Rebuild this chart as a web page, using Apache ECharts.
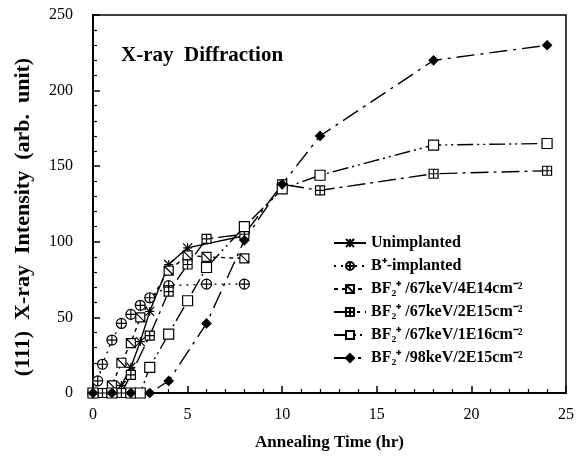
<!DOCTYPE html>
<html>
<head>
<meta charset="utf-8">
<script src="https://cdn.jsdelivr.net/npm/echarts@6/dist/echarts.min.js"></script>
<style>
html,body{margin:0;padding:0;background:#fff;}
#chart{width:577px;height:461px;}
</style>
</head>
<body>
<div id="chart"></div>
<script>
// ---- Data ----
var seriesNames = [
  'Unimplanted',
  'B\u207A-implanted',
  'BF\u2082\u207A /67keV/4E14cm\u207B\u00B2',
  'BF\u2082\u207A /67keV/2E15cm\u207B\u00B2',
  'BF\u2082\u207A /67keV/1E16cm\u207B\u00B2',
  'BF\u2082\u207A /98keV/2E15cm\u207B\u00B2'
];
var unimpT = [0, 0.5, 1, 1.5, 2, 2.5, 3, 4, 5, 8];
var unimpV = [0, 0, 0, 5, 17, 34, 54, 85, 96, 104];

var bT = [0, 0.25, 0.5, 1, 1.5, 2, 2.5, 3, 4, 6, 8];
var bV = [0, 8, 19, 35, 46, 52, 58, 63, 71, 72, 72];

var bf4e14T = [0, 0.5, 1, 1.5, 2, 2.5, 4, 5, 6, 8];
var bf4e14V = [0, 0, 5, 20, 33, 50, 81, 91, 90, 89];

var bf2e15T = [0, 0.5, 1, 1.5, 2, 3, 4, 5, 6, 8, 10, 12, 18, 24];
var bf2e15V = [0, 0, 0, 0, 12, 38, 67, 85, 102, 105, 138, 134, 145, 147];

var bf1e16T = [0, 1, 2, 2.5, 3, 4, 5, 6, 8, 10, 12, 18, 24];
var bf1e16V = [0, 0, 0, 0, 17, 39, 61, 83, 110, 135, 144, 164, 165];

var bf98T = [0, 1, 2, 3, 4, 6, 8, 10, 12, 18, 24];
var bf98V = [0, 0, 0, 0, 8, 46, 101, 138, 170, 220, 230];

var xTicks = [0, 5, 10, 15, 20, 25];
var yTicks = [0, 50, 100, 150, 200, 250];

function pairs(t, v) { return t.map(function (x, i) { return [x, v[i]]; }); }

var SERIF = '"Liberation Serif","Times New Roman",serif';

var symAsterisk = 'path://M0,0 L10,10 M10,0 L0,10 M5,0 L5,10 M0,5 L10,5';
var symCirclePlus = 'path://M0,5 A5,5 0 1 1 10,5 A5,5 0 1 1 0,5 Z M5,0 L5,10 M0,5 L10,5';
var symSquareSlash = 'path://M0,0 L10,0 L10,10 L0,10 Z M0,0 L10,10';
var symSquarePlus = 'path://M0,0 L10,0 L10,10 L0,10 Z M5,0 L5,10 M0,5 L10,5';
var symSquare = 'path://M0,0 L10,0 L10,10 L0,10 Z';

function mkSeries(name, t, v, sym, size, fill, dash) {
  return {
    name: name,
    type: 'line',
    data: pairs(t, v),
    symbol: sym,
    symbolSize: size,
    showAllSymbol: true,
    itemStyle: { color: fill, borderColor: '#000', borderWidth: 1.2 },
    lineStyle: { color: '#000', width: 1.4, type: dash },
    emphasis: { disabled: true },
    animation: false,
    z: 3
  };
}

var chart = echarts.init(document.getElementById('chart'), null, { renderer: 'canvas' });
chart.setOption({
  backgroundColor: '#fff',
  animation: false,
  textStyle: { fontFamily: SERIF },
  title: {
    text: 'X-ray  Diffraction',
    left: 116, top: 40,
    textStyle: { fontFamily: SERIF, fontSize: 21, fontWeight: 'bold', color: '#000' }
  },
  graphic: [{
    type: 'text',
    x: 23, y: 217,
    rotation: Math.PI / 2,
    style: {
      text: '(111)  X-ray  Intensity  (arb.  unit)',
      font: 'bold 22px ' + SERIF,
      fill: '#000',
      textAlign: 'center',
      textVerticalAlign: 'middle'
    }
  }],
  grid: { left: 93, right: 10, top: 15, bottom: 68, show: true, borderColor: '#000', borderWidth: 1.5, backgroundColor: 'transparent' },
  legend: {
    orient: 'vertical',
    left: 328, top: 230,
    itemWidth: 32, itemHeight: 10, itemGap: 7,
    textStyle: { fontFamily: SERIF, fontSize: 16, fontWeight: 'bold', color: '#000' },
    data: seriesNames
  },
  xAxis: {
    type: 'value', min: 0, max: 25, interval: 5,
    name: 'Annealing Time (hr)', nameLocation: 'middle', nameGap: 41,
    nameTextStyle: { fontFamily: SERIF, fontSize: 17, fontWeight: 'bold', color: '#000' },
    axisLine: { lineStyle: { color: '#000', width: 2 } },
    axisTick: { inside: true, length: 7, lineStyle: { color: '#000', width: 1.5 } },
    minorTick: { show: true, splitNumber: 5, length: 4, lineStyle: { color: '#000', width: 1.2 } },
    axisLabel: { fontFamily: SERIF, fontSize: 16, color: '#000', margin: 14,
      formatter: function (v) { return xTicks.indexOf(v) >= 0 ? String(v) : ''; } },
    splitLine: { show: false }
  },
  yAxis: {
    type: 'value', min: 0, max: 250, interval: 50,
    axisLine: { lineStyle: { color: '#000', width: 2 } },
    axisTick: { inside: true, length: 7, lineStyle: { color: '#000', width: 1.5 } },
    minorTick: { show: true, splitNumber: 5, length: 4, lineStyle: { color: '#000', width: 1.2 } },
    axisLabel: { fontFamily: SERIF, fontSize: 16, color: '#000', margin: 20,
      formatter: function (v) { return yTicks.indexOf(v) >= 0 ? String(v) : ''; } },
    splitLine: { show: false }
  },
  series: [
    mkSeries(seriesNames[0], unimpT, unimpV, symAsterisk, 9, '#000', 'solid'),
    mkSeries(seriesNames[1], bT, bV, symCirclePlus, 10, '#fff', [2, 5]),
    mkSeries(seriesNames[2], bf4e14T, bf4e14V, symSquareSlash, 9, '#fff', [4, 4]),
    mkSeries(seriesNames[3], bf2e15T, bf2e15V, symSquarePlus, 9, '#fff', [18, 5, 3, 5]),
    mkSeries(seriesNames[4], bf1e16T, bf1e16V, symSquare, 10, '#fff', [16, 4, 2, 4, 2, 4]),
    mkSeries(seriesNames[5], bf98T, bf98V, 'diamond', 9, '#000', [18, 6, 3, 6])
  ]
});
</script>
</body>
</html>
